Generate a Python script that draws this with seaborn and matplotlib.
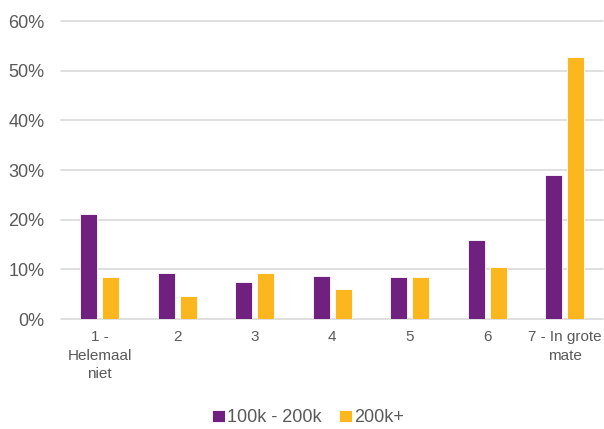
import matplotlib
matplotlib.use('Agg')
import matplotlib.pyplot as plt
import seaborn as sns
import pandas as pd
from matplotlib.ticker import PercentFormatter

# ============ 数据 ============
categories = ['1 -\nHelemaal\nniet', '2', '3', '4', '5', '6', '7 - In grote\nmate']
series_names = ['100k - 200k', '200k+']
values_100k_200k = [0.211, 0.093, 0.074, 0.087, 0.085, 0.159, 0.291]
values_200k_plus = [0.084, 0.046, 0.092, 0.060, 0.084, 0.106, 0.527]

COLORS = ['#70207E', '#FDB71E']

sns.set_style("white")
plt.rcParams['font.family'] = ['Liberation Sans', 'DejaVu Sans']

df = pd.DataFrame({
    'cat': categories * 2,
    'series': [series_names[0]] * len(categories) + [series_names[1]] * len(categories),
    'value': values_100k_200k + values_200k_plus,
})

fig = plt.figure(figsize=(6.04, 4.29), dpi=100)
ax = fig.add_axes([0.101, 0.256, 0.898, 0.695])

sns.barplot(data=df, x='cat', y='value', hue='series', order=categories,
            hue_order=series_names, palette=COLORS, saturation=1, width=0.57, gap=0.23,
            edgecolor='white', linewidth=0.6, ax=ax, legend=True)

ax.set_ylim(0, 0.6)
ax.set_xlim(-0.5, len(categories) - 0.5)
ax.set_yticks([0, 0.1, 0.2, 0.3, 0.4, 0.5, 0.6])
ax.yaxis.set_major_formatter(PercentFormatter(1.0, decimals=0))
ax.grid(True, axis='y', color='#d9d9d9', linewidth=1.2)
ax.set_axisbelow(True)
for s in ax.spines.values():
    s.set_visible(False)
ax.set_xlabel('')
ax.set_ylabel('')
ax.tick_params(axis='y', length=0, pad=12, labelsize=13, labelcolor='#595959')
ax.tick_params(axis='x', length=0, pad=8, labelsize=11, labelcolor='#595959')
for lbl in ax.get_xticklabels():
    lbl.set_linespacing(1.4)
for line in ax.get_ygridlines():
    line.set_clip_on(False)

handles, labels = ax.get_legend_handles_labels()
ax.get_legend().remove()
fig.legend(handles, labels, loc='center', bbox_to_anchor=(0.51, 0.026), ncol=2,
           frameon=False, handlelength=0.7, handleheight=0.7, handletextpad=0.1,
           columnspacing=1.0, fontsize=13, labelcolor='#595959')

fig.savefig('out.png', dpi=100)
